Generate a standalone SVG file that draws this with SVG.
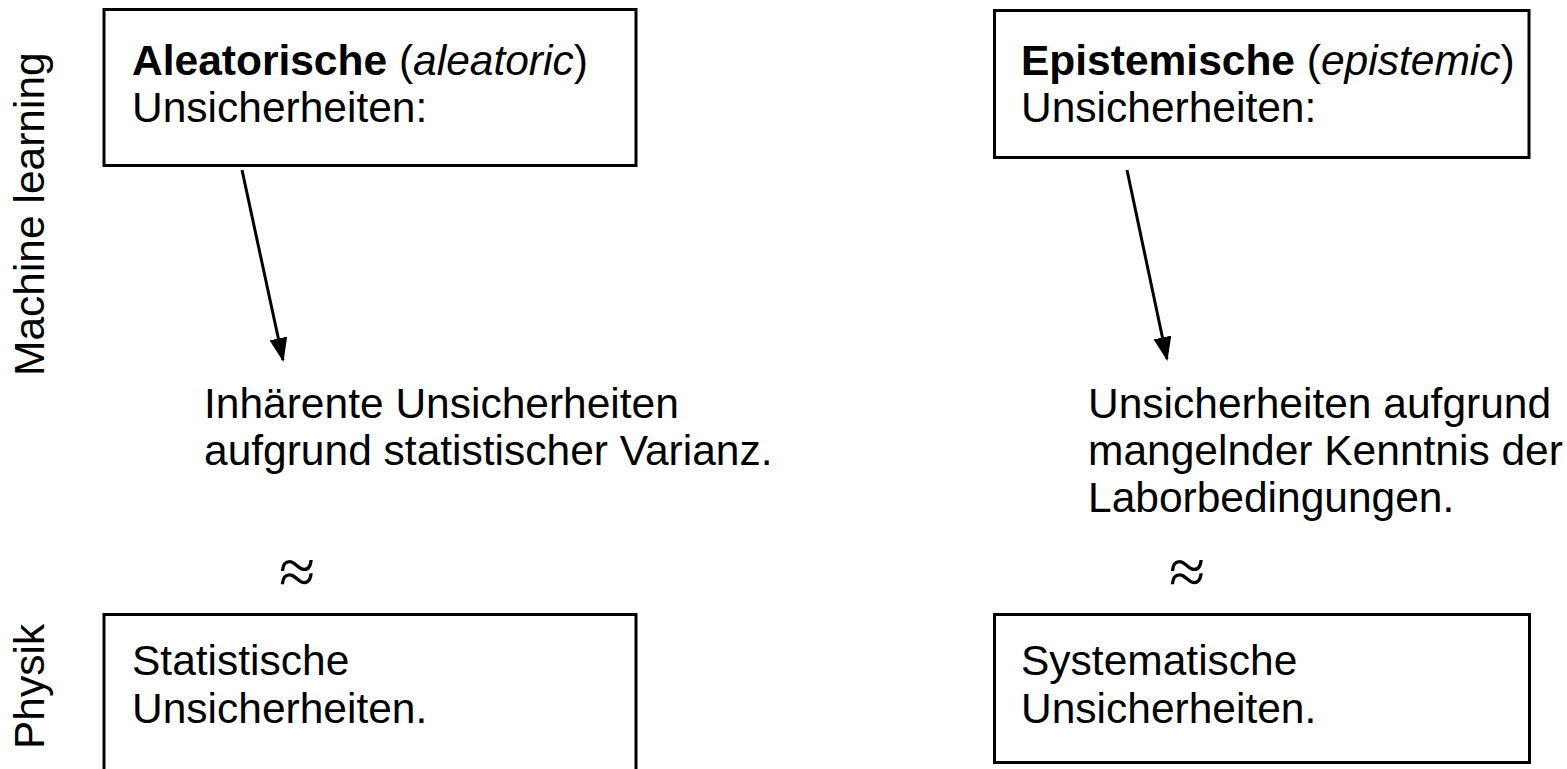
<svg xmlns="http://www.w3.org/2000/svg" width="1567" height="769" viewBox="0 0 1567 769">
  <defs>
    <style>
      text { font-family: "Liberation Sans", Arial, sans-serif; font-size: 42.5px; fill: #000; }
      .b { font-weight: bold; }
      .i { font-style: italic; }
      .box { fill: #fff; stroke: #000; stroke-width: 3; }
      .edge { stroke: #000; stroke-width: 3; fill: none; }
      .approx { font-family: "Liberation Serif", "DejaVu Serif", serif; font-size: 66px; text-anchor: middle; }
    </style>
    <marker id="arrow" viewBox="0 0 24 18" refX="22" refY="9" markerWidth="24" markerHeight="18" markerUnits="userSpaceOnUse" orient="auto">
      <path d="M0,0 L24,9 L0,18 z" fill="#000"/>
    </marker>
  </defs>
  <rect width="1567" height="769" fill="#fff"/>

  <!-- row labels -->
  <text id="label-ml" transform="translate(44,376) rotate(-90)">Machine learning</text>
  <text id="label-physik" transform="translate(44,749) rotate(-90)">Physik</text>

  <!-- connectors -->
  <g id="connectors">
    <line class="edge" x1="242" y1="170" x2="283" y2="360" marker-end="url(#arrow)"/>
    <line class="edge" x1="1127" y1="170" x2="1167" y2="359" marker-end="url(#arrow)"/>
  </g>

  <g id="node-aleatoric">
    <rect class="box" x="104" y="9.5" width="532" height="156"/>
    <text x="132" y="75"><tspan class="b">Aleatorische</tspan> (<tspan class="i">aleatoric</tspan>)</text>
    <text x="132" y="122">Unsicherheiten:</text>
  </g>

  <g id="node-epistemic">
    <rect class="box" x="994.5" y="10.5" width="534.5" height="147"/>
    <text x="1021" y="75"><tspan class="b">Epistemische</tspan> (<tspan class="i">epistemic</tspan>)</text>
    <text x="1021" y="122">Unsicherheiten:</text>
  </g>

  <g id="note-aleatoric">
    <text x="204" y="418">Inhärente Unsicherheiten</text>
    <text x="204" y="465">aufgrund statistischer Varianz.</text>
  </g>

  <g id="note-epistemic">
    <text x="1088" y="418">Unsicherheiten aufgrund</text>
    <text x="1088" y="465">mangelnder Kenntnis der</text>
    <text x="1088" y="512">Laborbedingungen.</text>
  </g>

  <text id="approx-left" class="approx" x="297" y="594">≈</text>
  <text id="approx-right" class="approx" x="1187" y="594">≈</text>

  <g id="node-statistical">
    <rect class="box" x="104" y="614.5" width="532" height="170"/>
    <text x="132" y="675">Statistische</text>
    <text x="132" y="723">Unsicherheiten.</text>
  </g>

  <g id="node-systematic">
    <rect class="box" x="994.5" y="614.5" width="535" height="148"/>
    <text x="1021" y="675">Systematische</text>
    <text x="1021" y="723">Unsicherheiten.</text>
  </g>
</svg>
